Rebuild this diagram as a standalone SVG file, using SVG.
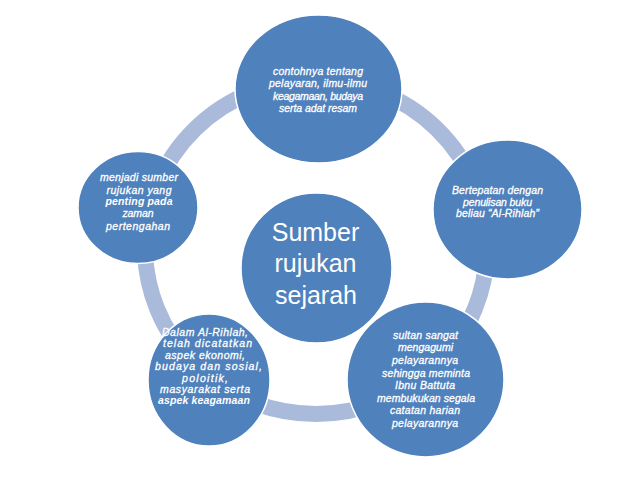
<svg xmlns="http://www.w3.org/2000/svg" width="638" height="479" viewBox="0 0 638 479">
<style>
.bg{fill:#FFFFFF}
.node{fill:#4F81BD;stroke:#FFFFFF;stroke-width:1.5}
.ring{fill:none;stroke:#AABADB;stroke-width:16}
.t{font-family:"Liberation Sans",Arial,sans-serif;font-style:italic;font-size:10.5px;fill:#FFFFFF;stroke:#FFFFFF;stroke-width:0.3;text-anchor:middle}
.b{font-weight:bold;stroke-width:0}
.c{font-family:"Liberation Sans",Arial,sans-serif;font-size:25px;fill:#FFFFFF;text-anchor:middle}
</style>
<rect class="bg" x="0" y="0" width="638" height="479"/>
<g id="connectors">
<ellipse class="ring" cx="316" cy="247" rx="171" ry="167"/>
</g>
<g id="node-top">
<ellipse class="node" cx="318.5" cy="89" rx="83.5" ry="74"/>
<text class="t" x="318" y="74.5" textLength="90" lengthAdjust="spacing">contohnya tentang</text>
<text class="t" x="318" y="87" textLength="98" lengthAdjust="spacing">pelayaran, ilmu-ilmu</text>
<text class="t" x="318" y="99.5" textLength="90" lengthAdjust="spacing">keagamaan, budaya</text>
<text class="t" x="318" y="112" textLength="78" lengthAdjust="spacing">serta adat resam</text>
</g>
<g id="node-right">
<ellipse class="node" cx="507.5" cy="209.5" rx="74.5" ry="69.5"/>
<text class="t" x="497.5" y="193.5" textLength="91" lengthAdjust="spacing">Bertepatan dengan</text>
<text class="t" x="497.5" y="205.5" textLength="69" lengthAdjust="spacing">penulisan buku</text>
<text class="t" x="497.5" y="217" textLength="83" lengthAdjust="spacing">beliau “Al-Rihlah”</text>
</g>
<g id="node-left">
<ellipse class="node" cx="138" cy="207.5" rx="60" ry="56"/>
<text class="t" x="139" y="181" textLength="78" lengthAdjust="spacing">menjadi sumber</text>
<text class="t" x="139" y="193.5" textLength="65" lengthAdjust="spacing">rujukan yang</text>
<text class="t b" x="139" y="204.5" textLength="67" lengthAdjust="spacing">penting  pada</text>
<text class="t" x="138" y="216.5" textLength="31" lengthAdjust="spacing">zaman</text>
<text class="t" x="138" y="230" textLength="64" lengthAdjust="spacing">pertengahan</text>
</g>
<g id="node-bottom-left">
<ellipse class="node" cx="209" cy="380" rx="61" ry="66"/>
<text class="t" x="205" y="335.5" textLength="86" lengthAdjust="spacing">Dalam Al-Rihlah,</text>
<text class="t" x="207.5" y="347" textLength="89" lengthAdjust="spacing">telah dicatatkan</text>
<text class="t" x="205" y="358.5" textLength="80" lengthAdjust="spacing">aspek ekonomi,</text>
<text class="t" x="208.5" y="370" textLength="107" lengthAdjust="spacing">budaya dan sosial,</text>
<text class="t" x="205" y="381.5" textLength="46" lengthAdjust="spacing">poloitik,</text>
<text class="t" x="205" y="393" textLength="90" lengthAdjust="spacing">masyarakat serta</text>
<text class="t b" x="204" y="404" textLength="92" lengthAdjust="spacing">aspek keagamaan</text>
</g>
<g id="node-bottom-right">
<ellipse class="node" cx="425.5" cy="379.5" rx="78.5" ry="77.5"/>
<text class="t" x="425.5" y="339" textLength="65" lengthAdjust="spacing">sultan sangat</text>
<text class="t" x="425.5" y="351" textLength="55" lengthAdjust="spacing">mengagumi</text>
<text class="t" x="425" y="364" textLength="66" lengthAdjust="spacing">pelayarannya</text>
<text class="t" x="426" y="376.5" textLength="88" lengthAdjust="spacing">sehingga meminta</text>
<text class="t" x="425" y="389" textLength="60" lengthAdjust="spacing">Ibnu Battuta</text>
<text class="t" x="426" y="401.5" textLength="98" lengthAdjust="spacing">membukukan segala</text>
<text class="t" x="425" y="414" textLength="70" lengthAdjust="spacing">catatan harian</text>
<text class="t" x="425" y="426.5" textLength="66" lengthAdjust="spacing">pelayarannya</text>
</g>
<g id="node-center">
<ellipse class="node" cx="316.5" cy="268" rx="75.5" ry="75"/>
<text class="c" x="315.5" y="240.5">Sumber</text>
<text class="c" x="315.5" y="272">rujukan</text>
<text class="c" x="316" y="303.5">sejarah</text>
</g>
</svg>
